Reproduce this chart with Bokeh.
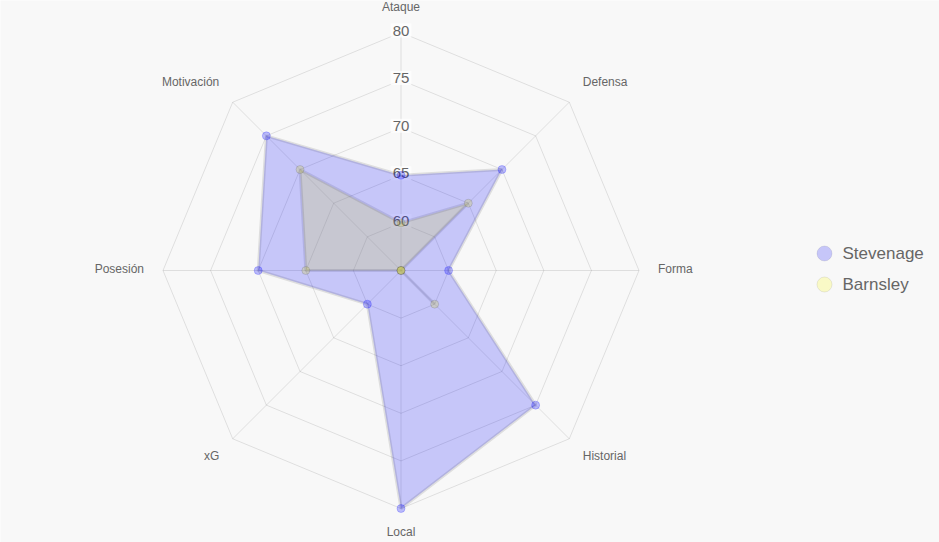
import math
from bokeh.plotting import figure
from bokeh.models import Range1d
from bokeh.core.properties import value
from bokeh.embed import file_html
from bokeh.resources import INLINE

# ---- data ----
categories = ["Ataque", "Defensa", "Forma", "Historial", "Local", "xG", "Posesión", "Motivación"]
stevenage = [65, 70, 60, 75, 80, 60, 70, 75]
barnsley = [60, 65, 55, 60, 55, 55, 65, 70]
tick_values = [60, 65, 70, 75, 80]
tick_labels = ["60", "65", "70", "75", "80"]
series_names = ["Stevenage", "Barnsley"]
scale_min = 55
scale_max = 80

W, H = 939, 542
CX, CY = 400.5, 270.0          # pixel centre of the radar
R_PX = 238.0                   # pixel radius of the outer ring
ppu = R_PX / (scale_max - scale_min)

FONT = value("Liberation Sans")
TXT = "#666666"

p = figure(width=W, height=H, output_backend="svg", toolbar_location=None,
           x_range=Range1d(-CX / ppu, (W - CX) / ppu),
           y_range=Range1d(-(H - CY) / ppu, CY / ppu),
           min_border=0, background_fill_color="#f8f8f8",
           border_fill_color="#f8f8f8")
p.axis.visible = False
p.grid.visible = False
p.outline_line_color = None

n = len(categories)
angles = [math.pi / 2 - i * 2 * math.pi / n for i in range(n)]


def to_xy(vals):
    xs = [(v - scale_min) * math.cos(a) for v, a in zip(vals, angles)]
    ys = [(v - scale_min) * math.sin(a) for v, a in zip(vals, angles)]
    return xs, ys


# grid rings
ring_xs, ring_ys = [], []
for t in tick_values:
    xs, ys = to_xy([t] * n)
    ring_xs.append(xs + xs[:1])
    ring_ys.append(ys + ys[:1])
p.multi_line(ring_xs, ring_ys, line_color="black", line_alpha=0.1, line_width=1)

# angle lines
ox, oy = to_xy([scale_max] * n)
p.segment(x0=[0] * n, y0=[0] * n, x1=ox, y1=oy, line_color="black", line_alpha=0.1, line_width=1)

# tick labels on the top axis
p.text(x=[0] * len(tick_values), y=[t - scale_min for t in tick_values], text=tick_labels,
       text_font=FONT, text_font_size=value("15px"), text_color=TXT,
       text_align="center", text_baseline="middle", y_offset=-2,
       background_fill_color="white", background_fill_alpha=0.75, padding=2)

# point labels
lab_r = (R_PX + 19) / ppu
lx, ly, la, lb, lo = [], [], [], [], []
for a in angles:
    c, s = math.cos(a), math.sin(a)
    lx.append(lab_r * c)
    ly.append(lab_r * s)
    la.append("left" if c > 0.01 else ("right" if c < -0.01 else "center"))
    if s > 0.01:
        lb.append("bottom"); lo.append(0)
    elif s < -0.01:
        lb.append("top"); lo.append(-3)
    else:
        lb.append("middle"); lo.append(-2)
p.text(x=lx, y=ly, text=categories, text_align=la, text_baseline=lb, y_offset=lo,
       text_font=FONT, text_font_size=value("12px"), text_color=TXT)

# datasets (Barnsley drawn first, Stevenage on top)
bx, by = to_xy(barnsley)
sx, sy = to_xy(stevenage)
p.patch(bx, by, fill_color="#ffff00", fill_alpha=0.2, line_color="black", line_alpha=0.1, line_width=3)
p.scatter(bx, by, size=8, fill_color="#ffff00", fill_alpha=0.25, line_color="black", line_alpha=0.12)
p.patch(sx, sy, fill_color="#0000ff", fill_alpha=0.2, line_color="black", line_alpha=0.1, line_width=3)
p.scatter(sx, sy, size=8, fill_color="#0000ff", fill_alpha=0.25, line_color="#0000ff", line_alpha=0.2)

# legend
leg_y = [(CY - 253) / ppu, (CY - 284) / ppu]
leg_x = (824 - CX) / ppu
p.scatter([leg_x, leg_x], leg_y, size=15, fill_color=["#0000ff", "#ffff00"], fill_alpha=0.2,
          line_color="black", line_alpha=0.08)
p.text(x=[(842 - CX) / ppu] * 2, y=leg_y, text=series_names, text_align="left",
       text_baseline="middle", text_font=FONT, text_font_size=value("17px"), text_color=TXT)

open("out.html", "w").write(file_html(p, INLINE))
